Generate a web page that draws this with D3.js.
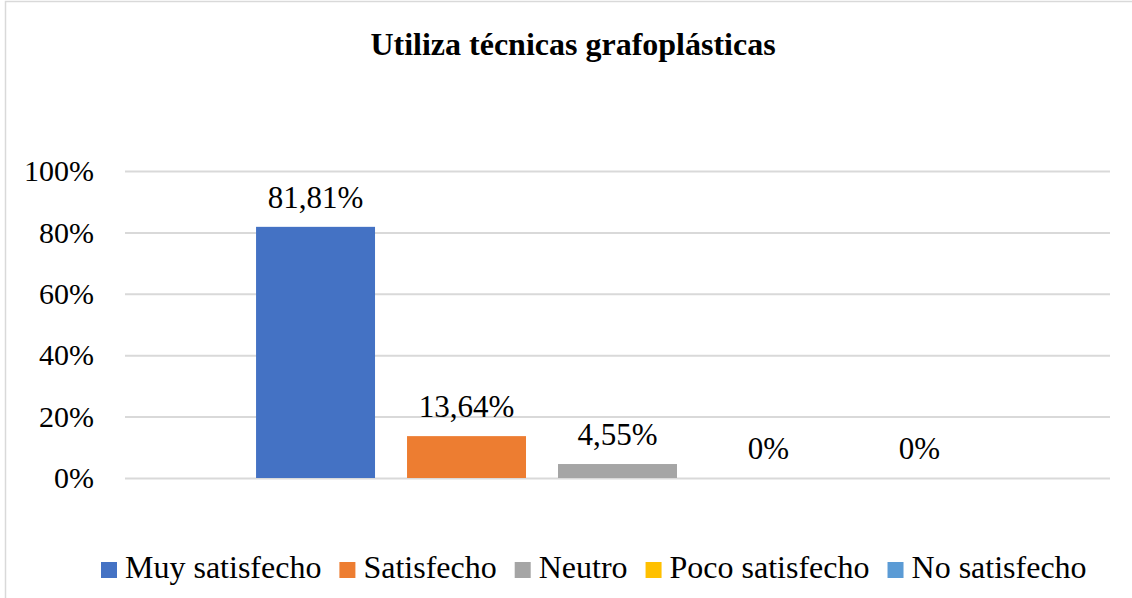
<!DOCTYPE html>
<html>
<head>
<meta charset="utf-8">
<script src="https://cdn.jsdelivr.net/npm/d3@7"></script>
<style>
  body { margin: 0; background: #fff; }
  svg { display: block; }
  svg text { font-family: "Liberation Serif", "Times New Roman", serif; fill: #000; }
</style>
</head>
<body>
<div id="chart"></div>
<script>
// Data
const series = ["Muy satisfecho", "Satisfecho", "Neutro", "Poco satisfecho", "No satisfecho"];
const values = [0.8181, 0.1364, 0.0455, 0, 0];
const valueLabels = ["81,81%", "13,64%", "4,55%", "0%", "0%"];
const colors = ["#4472C4", "#ED7D31", "#A5A5A5", "#FFC000", "#5B9BD5"];
const yTicks = [0, 0.2, 0.4, 0.6, 0.8, 1];
const title = "Utiliza técnicas grafoplásticas";

const W = 1132, H = 598;
const plot = {left: 125, right: 1110, top: 171, bottom: 478};

const svg = d3.select("#chart").append("svg")
    .attr("width", W)
    .attr("height", H);

// chart border (right/bottom edges fall outside the picture)
svg.append("rect")
    .attr("x", 5.5).attr("y", 1.5)
    .attr("width", W + 10).attr("height", H + 10)
    .attr("fill", "none")
    .attr("stroke", "#d9d9d9")
    .attr("stroke-width", 1.5);

// Title
svg.append("text")
    .attr("x", 573)
    .attr("y", 55)
    .attr("text-anchor", "middle")
    .style("font-size", "32px")
    .style("font-weight", "bold")
    .text(title);

// Scales
const y = d3.scaleLinear().domain([0, 1]).range([plot.bottom, plot.top]);
const x = d3.scaleBand()
    .domain(series)
    .range([plot.left, plot.right])
    .paddingInner(0.212)
    .paddingOuter(0.868);

// Gridlines + tick labels
const yAxis = svg.append("g")
    .attr("transform", `translate(${plot.left},0)`)
    .call(d3.axisLeft(y)
        .tickValues(yTicks)
        .tickSize(-(plot.right - plot.left))
        .tickPadding(31)
        .tickFormat(d3.format(".0%")));
yAxis.attr("font-family", null);
yAxis.select(".domain").remove();
yAxis.selectAll(".tick line")
    .attr("stroke", "#d9d9d9")
    .attr("stroke-width", 2);
yAxis.selectAll(".tick text")
    .attr("fill", "#000")
    .style("font-size", "30px");

// Bars
svg.selectAll(".bar")
    .data(series)
    .enter()
    .append("rect")
    .attr("class", "bar")
    .attr("x", d => x(d))
    .attr("width", x.bandwidth())
    .attr("y", (d, i) => y(values[i]))
    .attr("height", (d, i) => y(0) - y(values[i]))
    .attr("fill", (d, i) => colors[i]);

// Data labels
svg.selectAll(".lbl")
    .data(series)
    .enter()
    .append("text")
    .attr("class", "lbl")
    .attr("x", d => x(d) + x.bandwidth() / 2)
    .attr("y", (d, i) => y(values[i]) - 19)
    .attr("text-anchor", "middle")
    .style("font-size", "31px")
    .text((d, i) => valueLabels[i]);

// Legend - items laid out one after another
const legend = svg.append("g").attr("transform", "translate(101,562)");
let lx = 0;
series.forEach((s, i) => {
    const item = legend.append("g").attr("transform", `translate(${lx},0)`);
    item.append("rect")
        .attr("width", 16).attr("height", 16)
        .attr("fill", colors[i]);
    const t = item.append("text")
        .attr("x", 24)
        .attr("y", 16)
        .style("font-size", "32px")
        .text(s);
    lx += 24 + t.node().getComputedTextLength() + 18;
});
</script>
</body>
</html>
